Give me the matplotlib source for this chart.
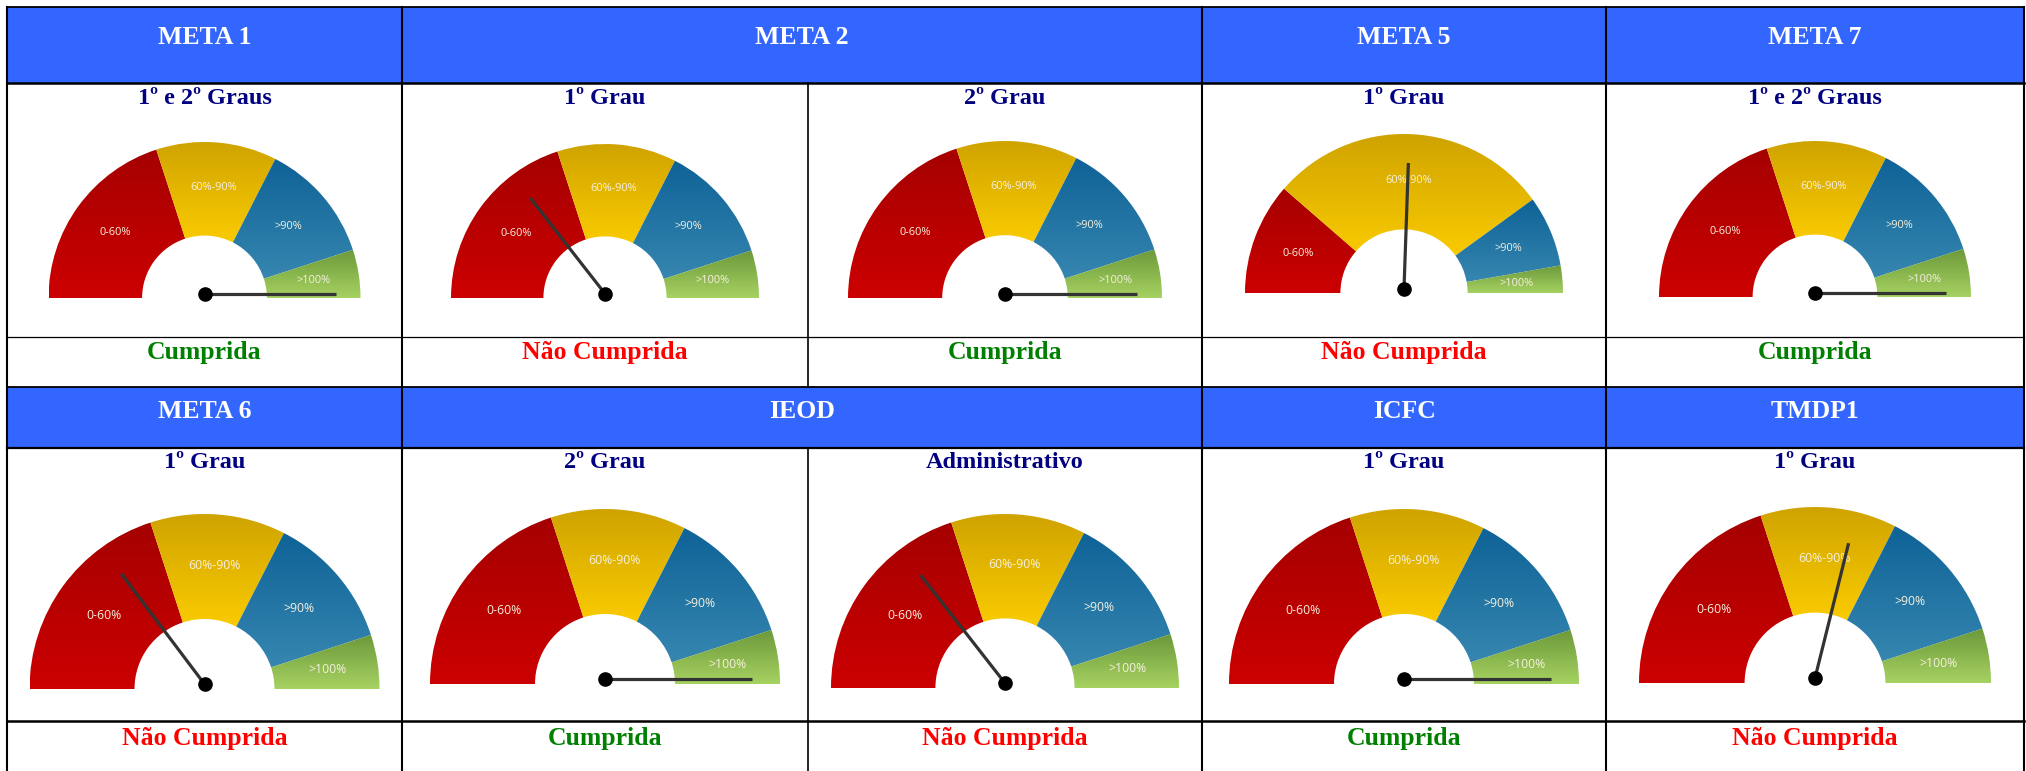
import numpy as np
import matplotlib
matplotlib.use("Agg")
import matplotlib.pyplot as plt
from matplotlib.patches import Wedge, Rectangle
from matplotlib.colors import LinearSegmentedColormap

# ---------------- data ----------------
row1_headers = ["META 1", "META 2", "META 5", "META 7"]
row1_header_spans = [1, 2, 1, 1]
row1_subtitles = ["1º e 2º Graus", "1º Grau", "2º Grau", "1º Grau", "1º e 2º Graus"]
row1_status = ["Cumprida", "Não Cumprida", "Cumprida", "Não Cumprida", "Cumprida"]
row1_needle_deg = [0, 128, 0, 88, 0]

row2_headers = ["META 6", "IEOD", "ICFC", "TMDP1"]
row2_header_spans = [1, 2, 1, 1]
row2_subtitles = ["1º Grau", "2º Grau", "Administrativo", "1º Grau", "1º Grau"]
row2_status = ["Não Cumprida", "Cumprida", "Não Cumprida", "Cumprida", "Não Cumprida"]
row2_needle_deg = [127, 0, 128, 0, 76]

segment_labels = ["0-60%", "60%-90%", ">90%", ">100%"]
# segment boundaries (degrees, from left 180 to right 0) per gauge
standard_bounds = [180, 108, 63, 18, 0]
meta5_bounds = [180, 139, 36, 10, 0]
row1_bounds = [standard_bounds, standard_bounds, standard_bounds, meta5_bounds, standard_bounds]
row2_bounds = [standard_bounds] * 5

# ---------------- layout (pixels) ----------------
W, H = 2026, 771
col_edges = [7, 402, 808, 1202, 1606, 2024]
col_centers = [(col_edges[i] + col_edges[i + 1]) / 2 for i in range(5)]

fig = plt.figure(figsize=(W / 100, H / 100), dpi=100)
ax = fig.add_axes([0, 0, 1, 1])
ax.set_axis_off()

def Y(y):
    return H - y

seg_colors = [("#CC0000", "#A50000"),   # (bottom, top)
              ("#FACB00", "#CFA300"),
              ("#3686B0", "#0E6296"),
              ("#A6D262", "#6C983A")]
cmaps = [LinearSegmentedColormap.from_list(f"g{i}", list(c)) for i, c in enumerate(seg_colors)]

serif = "Liberation Serif"
label_font = "Open Sans"


def draw_gauge(cx, base_img, R, bounds, needle_deg, needle_frac, label_fs):
    cy = Y(base_img)
    r_in = 0.40 * R
    for i in range(4):
        t2, t1 = bounds[i], bounds[i + 1]
        w = Wedge((cx, cy), R, t1, t2, width=R - r_in, facecolor="none",
                  edgecolor="none", zorder=2)
        ax.add_patch(w)
        a = np.radians(np.linspace(t1, t2, 100))
        xs = np.concatenate([cx + R * np.cos(a), cx + r_in * np.cos(a)])
        ys = np.concatenate([cy + R * np.sin(a), cy + r_in * np.sin(a)])
        grad = np.linspace(0, 1, 256).reshape(-1, 1)
        im = ax.imshow(grad, extent=[xs.min(), xs.max(), ys.min(), ys.max()],
                       origin="lower", cmap=cmaps[i], aspect="auto", zorder=2,
                       interpolation="bilinear")
        im.set_clip_path(w)
        mid = np.radians((t1 + t2) / 2)
        ax.text(cx + 0.71 * R * np.cos(mid), cy + 0.71 * R * np.sin(mid),
                segment_labels[i], ha="center", va="center", color="#F6F0DE",
                fontsize=label_fs, family=label_font, zorder=3)
    # needle
    px, py = cx, cy + 0.028 * R
    L = needle_frac * R
    ang = np.radians(needle_deg)
    ax.plot([px, px + L * np.cos(ang)], [py, py + L * np.sin(ang)],
            color="#333333", lw=2.3, solid_capstyle="butt", zorder=4)
    ax.plot([px], [py], marker="o", ms=9.5, color="black", zorder=5)


def draw_block(y_top, y_head, y_gauge, y_status, headers, spans, subtitles, status,
               needles, bounds_list, base_imgs, R, label_fs, head_y, sub_y, stat_y):
    # header fill
    ax.add_patch(Rectangle((col_edges[0], Y(y_head)), col_edges[-1] - col_edges[0],
                           y_head - y_top, facecolor="#3366FF", edgecolor="none", zorder=0))
    c = 0
    for h, s in zip(headers, spans):
        xc = (col_edges[c] + col_edges[c + s]) / 2
        ax.text(xc, Y(head_y), h, ha="center", va="center", color="white",
                fontsize=18.5, fontweight="bold", family=serif, zorder=3)
        c += s
    for i in range(5):
        ax.text(col_centers[i], Y(sub_y), subtitles[i], ha="center", va="center",
                color="#000080", fontsize=17.5, fontweight="bold", family=serif, zorder=3)
        col = "#008000" if status[i] == "Cumprida" else "#FF0000"
        ax.text(col_centers[i], Y(stat_y), status[i], ha="center", va="center",
                color=col, fontsize=18.5, fontweight="bold", family=serif, zorder=3)
        nf = 0.84 if needles[i] == 0 else 0.79
        draw_gauge(col_centers[i], base_imgs[i], R[i], bounds_list[i], needles[i], nf, label_fs)


draw_block(6.5, 82.5, 336.5, 387, row1_headers, row1_header_spans, row1_subtitles,
           row1_status, row1_needle_deg, row1_bounds,
           [298, 298, 298, 293, 297], [156, 154, 157, 159, 156], 7.9,
           head_y=37, sub_y=98, stat_y=353)
draw_block(387, 448, 721, 771, row2_headers, row2_header_spans, row2_subtitles,
           row2_status, row2_needle_deg, row2_bounds,
           [689, 684, 688, 684, 683], [175, 175, 174, 175, 176], 8.8,
           head_y=411, sub_y=463, stat_y=738)

# ---------------- grid lines ----------------
lc = "black"
def hline(y, x0, x1, lw):
    ax.plot([x0, x1], [Y(y), Y(y)], color=lc, lw=lw, zorder=6, solid_capstyle="projecting")
def vline(x, y0, y1, lw):
    ax.plot([x, x], [Y(y0), Y(y1)], color=lc, lw=lw, zorder=6, solid_capstyle="projecting")

hline(6.5, col_edges[0], col_edges[-1], 1.3)
hline(82.5, col_edges[0], col_edges[-1], 1.8)
hline(336.5, col_edges[0], col_edges[-1], 0.9)
hline(387, col_edges[0], col_edges[-1], 1.3)
hline(448, col_edges[0], col_edges[-1], 1.6)
hline(721, col_edges[0], col_edges[-1], 1.8)
for x in [col_edges[0], col_edges[1], col_edges[3], col_edges[4], col_edges[5]]:
    vline(x, 6.5, 775, 1.5)
vline(col_edges[2], 82.5, 387, 1.2)
vline(col_edges[2], 448, 775, 1.2)

ax.set_xlim(0, W)
ax.set_ylim(0, H)
fig.savefig("out.png", dpi=100, facecolor="white")
